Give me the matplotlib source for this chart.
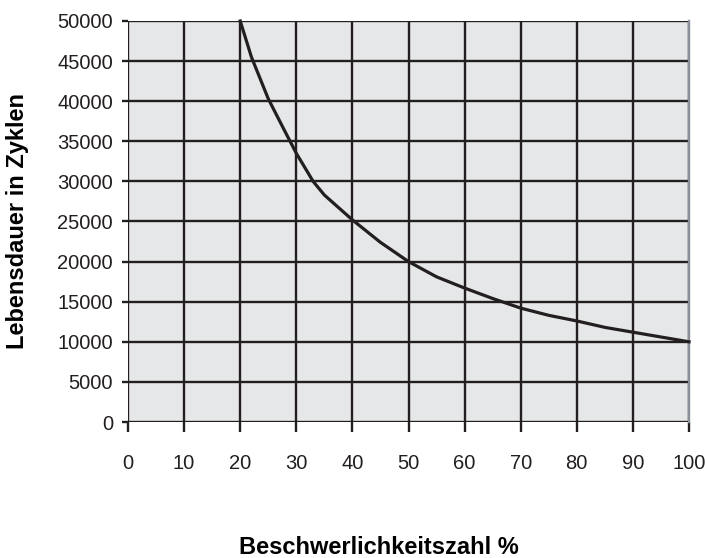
import matplotlib
matplotlib.use("Agg")
import matplotlib.pyplot as plt

# Lebensdauer über Beschwerlichkeitszahl
beschwerlichkeit = [20, 22, 25, 28, 30, 33, 35, 40, 45, 50, 55, 60, 65, 70, 75, 80, 85, 90, 95, 100]
zyklen = [50000, 45500, 40300, 36200, 33500, 30000, 28300, 25200, 22400, 20000, 18100, 16700,
          15400, 14200, 13300, 12600, 11800, 11200, 10600, 10000]

x_ticks = list(range(0, 101, 10))
y_ticks = list(range(0, 50001, 5000))

tick_font = ["Liberation Sans", "DejaVu Sans"]
label_font = ["Liberation Sans", "DejaVu Sans"]
ink = "#231f20"

fig = plt.figure(figsize=(7.05, 5.58), dpi=100)
ax = fig.add_axes([0.1816, 0.2437, 0.7957, 0.7187])
ax.set_facecolor("#e6e7e8")

ax.set_xlim(0, 100)
ax.set_ylim(0, 50000)
ax.set_xticks(x_ticks)
ax.set_yticks(y_ticks)
ax.grid(True, color=ink, linewidth=1.7)
ax.set_axisbelow(True)

ax.plot(beschwerlichkeit, zyklen, color=ink, linewidth=2.3, solid_joinstyle="round",
        clip_on=False, zorder=3)

for side in ["top", "left", "bottom"]:
    ax.spines[side].set_visible(False)
ax.spines["right"].set_color("#8a9099")
ax.spines["right"].set_linewidth(1.7)

ax.tick_params(axis="x", length=7.2, width=1.7, color=ink, pad=16, labelsize=14.5)
ax.tick_params(axis="y", length=4.3, width=1.7, color=ink, pad=6.5, labelsize=14.5)
for lbl in ax.get_xticklabels() + ax.get_yticklabels():
    lbl.set_family(tick_font)
    lbl.set_color(ink)

fig.text(0.537, 0.0197, "Beschwerlichkeitszahl %", ha="center", va="center",
         fontsize=17, fontweight="bold", family=label_font)
fig.text(0.0255, 0.604, "Lebensdauer in Zyklen", ha="center", va="center", rotation=90,
         fontsize=17, fontweight="bold", family=label_font)

fig.savefig("out.png", dpi=100)
